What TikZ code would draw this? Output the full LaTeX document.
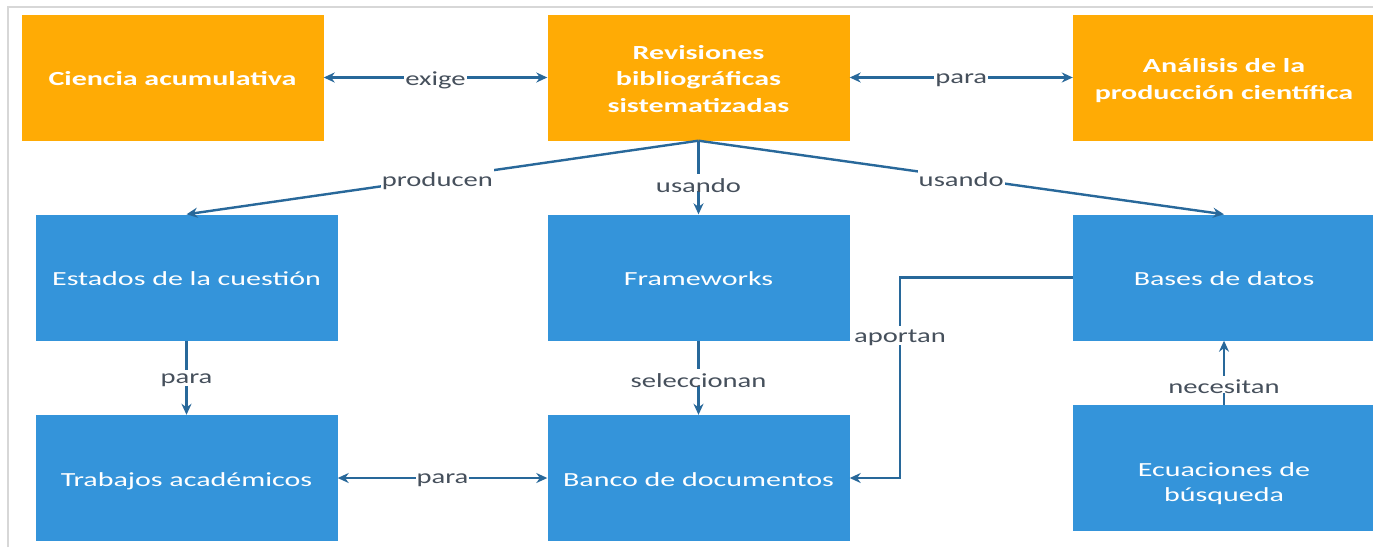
\documentclass[tikz,border=0pt]{standalone}
\usepackage{graphicx}
\usepackage{fontspec}
\setmainfont{Carlito}
\usetikzlibrary{arrows.meta}
\definecolor{orangebox}{RGB}{255,171,5}
\definecolor{bluebox}{RGB}{52,148,218}
\definecolor{arrowcol}{RGB}{40,104,154}
\definecolor{labelcol}{RGB}{70,80,92}
\definecolor{framecol}{RGB}{215,215,215}
\newcommand\wtxt[1]{\raisebox{-3pt}[\height][\depth]{\scalebox{1.5}[1]{\begin{tabular}{@{}c@{}}#1\end{tabular}}}}
\newcommand\wlbl[1]{\raisebox{-2.5pt}[\height][\depth]{\scalebox{1.43}[1]{#1}}}
\tikzset{
  obox/.style={fill=orangebox, minimum width=302pt, minimum height=126pt, inner sep=0pt, align=center, text=white, font=\fontsize{20}{26.5}\selectfont\bfseries},
  bbox/.style={fill=bluebox, minimum width=302pt, minimum height=126pt, inner sep=0pt, align=center, text=white, font=\fontsize{20}{25}\selectfont},
  btext/.style={inner sep=0pt, align=center, text=white, font=\fontsize{20}{25}\selectfont},
  conn/.style={draw=arrowcol, line width=2.4pt, -{Stealth[length=11pt,width=10pt]}},
  biconn/.style={draw=arrowcol, line width=2.4pt, {Stealth[length=11pt,width=10pt]}-{Stealth[length=11pt,width=10pt]}},
  lbl/.style={fill=white, text=labelcol, inner xsep=1pt, inner ysep=1.5pt, font=\fontsize{20}{24}\selectfont}
}
\begin{document}
\begin{tikzpicture}[x=1pt,y=-1pt]
\useasboundingbox[fill=white] (0,0) rectangle (1373,547);
\draw[framecol, line width=1.2pt] (8,547) -- (8,7) -- (1373,7);
% top row
\node[obox] (ciencia) at (172.5,77.5) {\wtxt{Ciencia acumulativa}};
\node[obox] (rev) at (698.5,77.5) {\wtxt{Revisiones\\bibliográficas\\sistematizadas}};
\node[obox] (analisis) at (1224,77.5) {\wtxt{Análisis de la\\producción científica}};
% middle row
\node[bbox] (estados) at (186.5,277.5) {\wtxt{Estados de la cuestión}};
\node[bbox] (frame) at (698.5,277.5) {\wtxt{Frameworks}};
\node[bbox] (bases) at (1224,277.5) {\wtxt{Bases de datos}};
% bottom row
\node[bbox] (trabajos) at (186.5,478) {\wtxt{Trabajos académicos}};
\node[bbox] (banco) at (698.5,478) {\wtxt{Banco de documentos}};
\node[bbox] (ecu) at (1224,468) {};
\node[btext] (ecutext) at ([yshift=-13pt]ecu.center) {\wtxt{Ecuaciones de\\búsqueda}};
% connectors
\draw[biconn] (ciencia) -- node[lbl] {\wlbl{exige}} (rev);
\draw[biconn] (rev) -- node[lbl] {\wlbl{para}} (analisis);
\draw[conn] (rev.south) -- node[lbl, pos=0.51] {\wlbl{producen}} (estados.north);
\draw[conn] (rev.south) -- node[lbl, pos=0.57] {\wlbl{usando}} (frame.north);
\draw[conn] (rev.south) -- node[lbl, pos=0.5] {\wlbl{usando}} (bases.north);
\draw[conn] (estados) -- node[lbl, pos=0.5] {\wlbl{para}} (trabajos);
\draw[conn] (frame) -- node[lbl, pos=0.5] {\wlbl{seleccionan}} (banco);
\draw[biconn] (trabajos) -- node[lbl] {\wlbl{para}} (banco);
\coordinate (a1) at (900,277.5);
\coordinate (a2) at (900,478);
\draw[conn] (bases.west) -- (a1) -- node[lbl, pos=0.29] {\wlbl{aportan}} (a2) -- (banco.east);
\draw[conn] (ecu) -- node[lbl, pos=0.32] {\wlbl{necesitan}} (bases);
\end{tikzpicture}
\end{document}
